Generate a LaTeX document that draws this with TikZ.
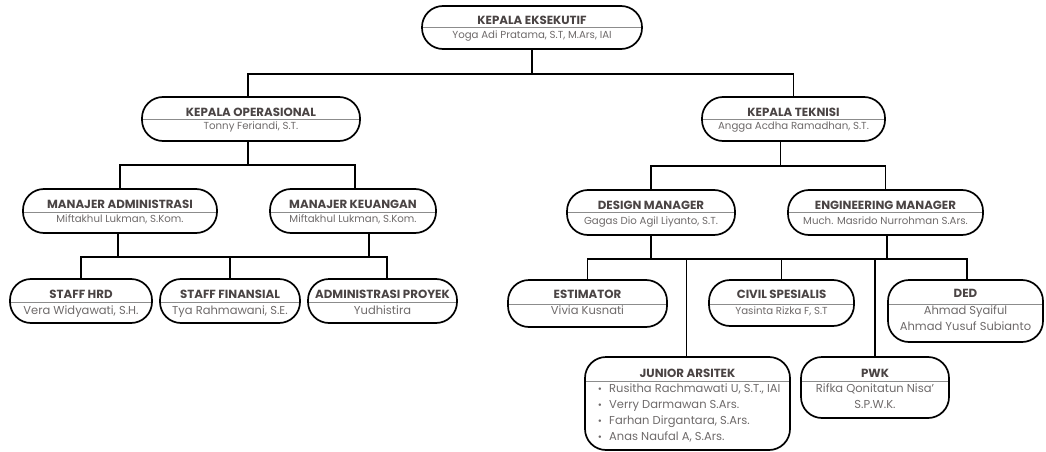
\documentclass[tikz,border=0pt]{standalone}
\usepackage{fontspec}
\setmainfont{Poppins}
\usetikzlibrary{fit}
\definecolor{ttlc}{HTML}{4A4444}
\definecolor{nmc}{HTML}{6E6A6A}
\definecolor{dvc}{HTML}{8C8C8C}
\tikzset{
  obox/.style={draw=black, line width=1.7pt, rounded corners=21pt, inner sep=0pt},
  conn/.style={line width=1.6pt, black},
  ttl/.style={font=\fontsize{11.8}{13}\selectfont\bfseries, text=ttlc, inner sep=0pt, anchor=base},
  nm/.style={font=\fontsize{10.2}{12}\selectfont, text=nmc, inner sep=0pt, anchor=base},
  nmb/.style={font=\fontsize{11.5}{13}\selectfont, text=nmc, inner sep=0pt, anchor=base},
  bul/.style={font=\fontsize{10}{12}\selectfont, text=nmc, inner sep=0pt, anchor=base},
}
% name, x1, y1, x2, y2, divider y
\newcommand{\orgbox}[6]{%
  \begin{scope}
    \clip[rounded corners=21pt] (#2,#3) rectangle (#4,#5);
    \draw[dvc, line width=0.8pt] (#2,#6) -- (#4,#6);
  \end{scope}
  \node[obox, fit={(#2,#3) (#4,#5)}] (#1) {};
}
\begin{document}
\begin{tikzpicture}[x=1pt,y=-1pt]
\useasboundingbox (0,0) rectangle (1046,452);
% level 0
\orgbox{ke}{422}{6}{642}{49}{27}
\node[ttl] (ke-t) at (532,24.5) {KEPALA EKSEKUTIF};
\node[nm] (ke-n) at (532,38.5) {Yoga Adi Pratama, S.T, M.Ars, IAI};
% level 1
\orgbox{ko}{142}{97}{360}{141}{119}
\node[ttl] (ko-t) at (251,116) {KEPALA OPERASIONAL};
\node[nm] (ko-n) at (251,129.5) {Tonny Feriandi, S.T.};
\orgbox{kt}{702}{97}{885}{141}{119}
\node[ttl] (kt-t) at (793.5,116) {KEPALA TEKNISI};
\node[nm] (kt-n) at (793.5,129.5) {Angga Acdha Ramadhan, S.T.};
% level 2
\orgbox{ma}{23}{189}{217}{233}{212}
\node[ttl] (ma-t) at (120,208) {MANAJER ADMINISTRASI};
\node[nm] (ma-n) at (120,222) {Miftakhul Lukman, S.Kom.};
\orgbox{mk}{270}{189}{436}{233}{212}
\node[ttl] (mk-t) at (353,208) {MANAJER KEUANGAN};
\node[nm] (mk-n) at (353,222) {Miftakhul Lukman, S.Kom.};
\orgbox{dm}{567}{190}{735}{235}{212}
\node[ttl] (dm-t) at (651,209) {DESIGN MANAGER};
\node[nm] (dm-n) at (651,224) {Gagas Dio Agil Liyanto, S.T.};
\orgbox{em}{788}{190}{983}{235}{212}
\node[ttl] (em-t) at (885.5,209) {ENGINEERING MANAGER};
\node[nm] (em-n) at (885.5,224) {Much. Masrido Nurrohman S.Ars.};
% level 3 left
\orgbox{hrd}{10}{279}{152}{323}{302}
\node[ttl] (hrd-t) at (81,298) {STAFF HRD};
\node[nmb] (hrd-n) at (81,314) {Vera Widyawati, S.H.};
\orgbox{fin}{160}{279}{300}{323}{302}
\node[ttl] (fin-t) at (230,298) {STAFF FINANSIAL};
\node[nmb] (fin-n) at (230,314) {Tya Rahmawani, S.E.};
\orgbox{adm}{308}{279}{457}{323}{302}
\node[ttl] (adm-t) at (382.5,298) {ADMINISTRASI PROYEK};
\node[nmb] (adm-n) at (382.5,314) {Yudhistira};
% level 3 right
\orgbox{est}{508}{280}{667}{327}{304}
\node[ttl] (est-t) at (587.5,298) {ESTIMATOR};
\node[nmb] (est-n) at (587.5,314) {Vivia Kusnati};
\orgbox{civ}{709}{280}{854}{326}{304}
\node[ttl] (civ-t) at (781.5,298) {CIVIL SPESIALIS};
\node[nm] (civ-n) at (781.5,314) {Yasinta Rizka F, S.T};
\orgbox{ded}{888}{280}{1043}{342}{304}
\node[ttl] (ded-t) at (965.5,297) {DED};
\node[nmb] (ded-n1) at (965.5,314) {Ahmad Syaiful};
\node[nmb] (ded-n2) at (965.5,330) {Ahmad Yusuf Subianto};
\orgbox{ja}{585}{357}{790}{450}{381}
\node[ttl] (ja-t) at (687.5,377) {JUNIOR ARSITEK};
\foreach \i/\yy/\txt in {1/392/{Rusitha Rachmawati U, S.T., IAI},
                         2/408/{Verry Darmawan S.Ars.},
                         3/424/{Farhan Dirgantara, S.Ars.},
                         4/440/{Anas Naufal A, S.Ars.}}{
  \node[bul] (ja-b\i) at (600,\yy) {•};
  \node[nmb, anchor=base west] (ja-\i) at (609,\yy) {\txt};
}
\orgbox{pwk}{801}{357}{949}{418}{381}
\node[ttl] (pwk-t) at (875,377) {PWK};
\node[nmb] (pwk-n1) at (875,392) {Rifka Qonitatun Nisa'};
\node[nmb] (pwk-n2) at (875,408) {S.P.W.K.};
% connectors
\draw[conn] (ke.south) -- ++(0,24) coordinate (b0);
\draw[conn] ([xshift=-3pt]ko.north) |- (b0) -| (kt.north);
\draw[conn] ([xshift=-3pt]ko.south) -- ++(0,23) coordinate (b1);
\draw[conn] (ma.north) |- (b1) -| ([xshift=2pt]mk.north);
\draw[conn] ([xshift=-13pt]kt.south) -- ++(0,24) coordinate (b2);
\draw[conn] (dm.north) |- (b2) -| (em.north);
\draw[conn] ([xshift=-2pt]ma.south) -- ++(0,23) coordinate (b3);
\draw[conn] ([xshift=16pt]mk.south) -- ++(0,23) coordinate (b4);
\draw[conn] (hrd.north) |- (b3) -- (b4) -| ([xshift=4.5pt]adm.north);
\draw[conn] (fin.north) -- (fin.north |- b3);
\draw[conn] (dm.south) -- ++(0,23) coordinate (b5);
\draw[conn] ([xshift=1.5pt]em.south) -- ++(0,23) coordinate (b6);
\draw[conn] (est.north) |- (b5) -- (b6) -| ([xshift=1.5pt]ded.north);
\draw[conn] (civ.north) -- (civ.north |- b5);
\draw[conn] ([xshift=-1pt]ja.north) -- ([xshift=-1pt]ja.north |- b5);
\draw[conn] (pwk.north) -- (pwk.north |- b5);
\end{tikzpicture}
\end{document}
